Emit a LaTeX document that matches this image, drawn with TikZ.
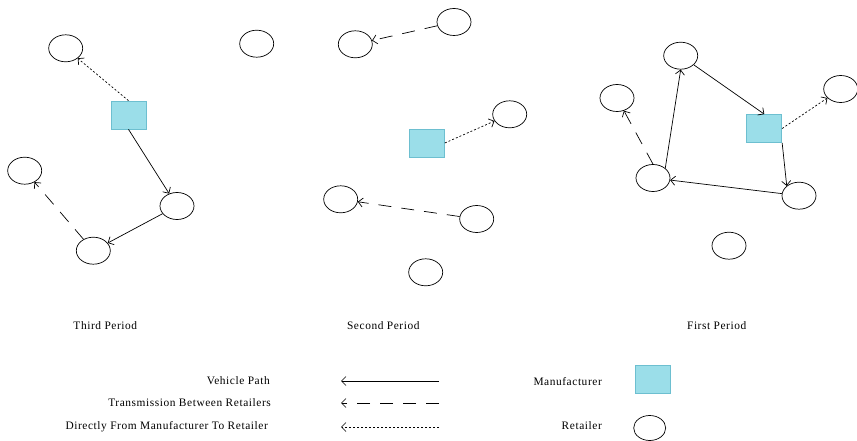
\documentclass[tikz,border=0pt]{standalone}
\usepackage{xcolor}
\usepackage{fontspec}
\setmainfont{Liberation Serif}[LetterSpace=5]
\usetikzlibrary{shapes.geometric,arrows.meta}
\definecolor{mfill}{HTML}{9BDEE9}
\definecolor{mline}{HTML}{6DBFD0}
\tikzset{
  retailer/.style = {draw, ellipse, minimum width = 34pt, minimum height = 27pt, inner sep = 0pt, line width = 0.7pt},
  maker/.style = {draw = mline, fill = mfill, minimum width = 35pt, minimum height = 28pt, inner sep = 0pt, line width = 0.7pt},
  vpath/.style = {-{Straight Barb[length = 4.5pt, width = 9pt]}, line width = 0.7pt},
  trans/.style = {vpath, dash pattern = on 13pt off 10pt},
  direct/.style = {vpath, dash pattern = on 2pt off 2pt},
  lbl/.style = {font = \fontsize{11.4}{13}\selectfont, inner sep = 0pt}
}
\begin{document}
\begin{tikzpicture}[x = 1pt, y = -1pt]
    \useasboundingbox (0, 0) rectangle (857, 441);
    {
      \node[maker] (m3) at (128.5, 115) {};
      \node[retailer] (a1) at (65.7, 48.3) {};
      \node[retailer] (a2) at (256.7, 43.7) {};
      \node[retailer] (a3) at (24.7, 170.7) {};
      \node[retailer] (a4) at (177, 206) {};
      \node[retailer] (a5) at (93.3, 250.7) {};
      \draw[direct] (m3.north) -- (a1);
      \draw[vpath] (m3.south) -- (a4);
      \draw[vpath] (a4) -- (a5);
      \draw[trans] (a5) -- (a3);
    }
    {
      \node[maker] (m2) at (427, 143) {};
      \node[retailer] (b1) at (454, 22) {};
      \node[retailer] (b2) at (355.3, 44.3) {};
      \node[retailer] (b3) at (509.7, 114.3) {};
      \node[retailer] (b4) at (340.7, 199.3) {};
      \node[retailer] (b5) at (476.7, 219) {};
      \node[retailer] (b6) at (425.7, 272.3) {};
      \draw[trans] (b1) -- (b2);
      \draw[direct] (m2.east) -- (b3);
      \draw[trans] (b5) -- (b4);
    }
    {
      \node[maker] (m1) at (764.3, 128.5) {};
      \node[retailer] (c1) at (680.7, 55.7) {};
      \node[retailer] (c2) at (617, 98) {};
      \node[retailer] (c3) at (840.7, 89) {};
      \node[retailer] (c4) at (653, 178) {};
      \node[retailer] (c5) at (799, 195.7) {};
      \node[retailer] (c6) at (729, 245.7) {};
      \draw[vpath] (c1) -- (m1.north);
      \draw[direct] (m1.east) -- (c3);
      \draw[vpath] (m1.south east) -- (c5.north west);
      \draw[vpath] (c5) -- (c4);
      \draw[vpath] (c4.north east) -- (c1.south);
      \draw[trans] (c4.north) -- (c2);
    }
    \node[lbl] (t3) at (105.3, 325.7) {Third Period};
    \node[lbl] (t2) at (383.3, 325.7) {Second Period};
    \node[lbl] (t1) at (716.7, 325.7) {First Period};
    {
      \node[lbl, anchor = east] (kv) at (270, 381) {Vehicle Path};
      \node[lbl, anchor = east] (kt) at (271, 403) {Transmission Between Retailers};
      \node[lbl, anchor = east] (kd) at (268, 427) {Directly From Manufacturer To Retailer};
      \coordinate (kv1) at (439, 381);
      \coordinate (kv2) at (341, 381);
      \coordinate (kt1) at (439, 403);
      \coordinate (kt2) at (341, 403);
      \coordinate (kd1) at (439, 427);
      \coordinate (kd2) at (341, 427);
      \draw[vpath] (kv1) -- (kv2);
      \draw[trans] (kt1) -- (kt2);
      \draw[direct] (kd1) -- (kd2);
    }
    {
      \node[lbl, anchor = east] (km) at (602, 381.5) {Manufacturer};
      \node[lbl, anchor = east] (kr) at (602, 426) {Retailer};
      \node[maker] (km1) at (652.7, 379.3) {};
      \node[retailer, minimum width = 32pt, minimum height = 25pt] (kr1) at (649.7, 428) {};
    }
  \end{tikzpicture}
\end{document}
